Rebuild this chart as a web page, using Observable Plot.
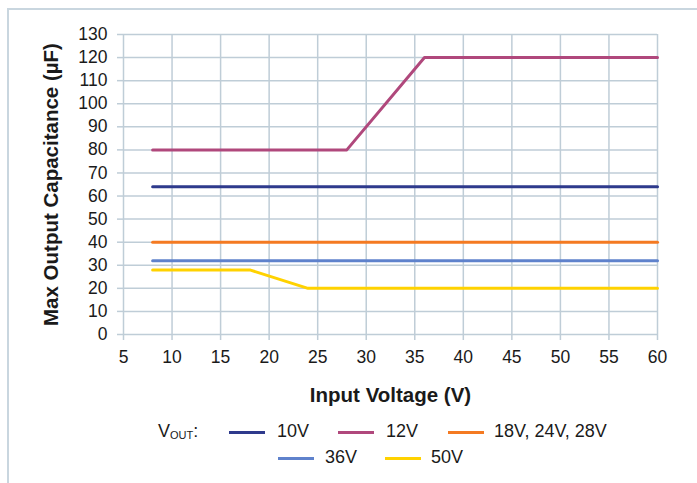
<!DOCTYPE html>
<html>
<head>
<meta charset="utf-8">
<script src="https://cdn.jsdelivr.net/npm/d3@7"></script>
<script src="https://cdn.jsdelivr.net/npm/@observablehq/plot@0.6"></script>
<style>
  html, body { margin: 0; padding: 0; background: #fff; }
  #wrap { position: relative; width: 697px; height: 483px; overflow: hidden; font-family: "Liberation Sans", Arial, sans-serif; color: #1a1a1a; }
  #frame { position: absolute; left: 7px; top: 8px; right: -10px; bottom: -10px; border-top: 2px solid #C9D6DF; border-left: 2px solid #C9D6DF; }
  #chart { position: absolute; left: 0; top: 0; }
  #chart svg { font-family: "Liberation Sans", Arial, sans-serif; }
  #chart g[aria-label="x-axis label"] text, #chart g[aria-label="y-axis label"] text { font-weight: bold; font-size: 20.5px; fill: #1a1a1a; }
  #legend { position: absolute; left: 0; top: 419px; width: 697px; height: 60px; font-size: 18px; }
  .lg { position: absolute; white-space: nowrap; }
  .sw { position: absolute; height: 3px; }
</style>
</head>
<body>
<div id="wrap">
  <div id="frame"></div>
  <div id="chart"></div>
  <div id="legend"></div>
</div>
<script>
// ---- data ----
const xTicks = [5, 10, 15, 20, 25, 30, 35, 40, 45, 50, 55, 60];
const yTicks = [0, 10, 20, 30, 40, 50, 60, 70, 80, 90, 100, 110, 120, 130];

const seriesNames = ["10V", "12V", "18V, 24V, 28V", "36V", "50V"];
const seriesColors = ["#2E3A8C", "#B0487C", "#F47A22", "#5F82CC", "#FFD200"];

const vin10 = [8, 60];
const cap10 = [64, 64];
const vin12 = [8, 28, 36, 60];
const cap12 = [80, 80, 120, 120];
const vin18 = [8, 60];
const cap18 = [40, 40];
const vin36 = [8, 60];
const cap36 = [32, 32];
const vin50 = [8, 18, 24, 60];
const cap50 = [28, 28, 20, 20];

const seriesX = [vin10, vin12, vin18, vin36, vin50];
const seriesY = [cap10, cap12, cap18, cap36, cap50];

const rows = [];
seriesNames.forEach((name, i) => {
  seriesX[i].forEach((x, j) => rows.push({series: name, vin: x, cap: seriesY[i][j]}));
});

const gridColor = "#BFCDD7";
const order = ["18V, 24V, 28V", "36V", "50V", "10V", "12V"];

const plot = Plot.plot({
  width: 697,
  height: 419,
  marginTop: 34,
  marginLeft: 123,
  marginRight: 40,
  marginBottom: 85,
  style: {background: "transparent", color: "#1a1a1a"},
  x: {domain: [5, 60]},
  y: {domain: [0, 130]},
  marks: [
    Plot.gridX(xTicks, {stroke: gridColor, strokeOpacity: 1, strokeWidth: 1.5}),
    Plot.gridY(yTicks, {stroke: gridColor, strokeOpacity: 1, strokeWidth: 1.5}),
    Plot.axisX(xTicks, {
      tickSize: 6, tickPadding: 10, stroke: gridColor, strokeOpacity: 1, strokeWidth: 1.5,
      fontSize: 17.5, label: "Input Voltage (V)", labelAnchor: "center", labelArrow: "none", labelOffset: 67
    }),
    Plot.axisY(yTicks, {
      tickSize: 6, tickPadding: 10, stroke: gridColor, strokeOpacity: 1, strokeWidth: 1.5,
      fontSize: 17.5, label: "Max Output Capacitance (µF)", labelAnchor: "center", labelArrow: "none", labelOffset: 80
    }),
    ...order.map(name => Plot.line(rows.filter(d => d.series === name), {
      x: "vin", y: "cap",
      stroke: seriesColors[seriesNames.indexOf(name)],
      strokeWidth: 3
    }))
  ]
});
document.getElementById("chart").appendChild(plot);

// ---- legend ----
const legend = document.getElementById("legend");
const legendItems = [
  {i: 0, lineX: 229, textX: 277, row: 0},
  {i: 1, lineX: 338, textX: 386, row: 0},
  {i: 2, lineX: 448, textX: 494, row: 0},
  {i: 3, lineX: 278, textX: 325, row: 1},
  {i: 4, lineX: 385, textX: 431, row: 1}
];
const rowCenters = [13, 39];
const title = document.createElement("div");
title.className = "lg";
title.style.left = "158px";
title.style.top = (rowCenters[0] - 11) + "px";
title.innerHTML = 'V<sub style="font-size:11px;vertical-align:-2px">OUT</sub>:';
legend.appendChild(title);
legendItems.forEach(it => {
  const sw = document.createElement("div");
  sw.className = "sw";
  sw.style.left = it.lineX + "px";
  sw.style.width = "36px";
  sw.style.top = (rowCenters[it.row] - 1.5) + "px";
  sw.style.background = seriesColors[it.i];
  legend.appendChild(sw);
  const t = document.createElement("div");
  t.className = "lg";
  t.style.left = it.textX + "px";
  t.style.top = (rowCenters[it.row] - 11) + "px";
  t.textContent = seriesNames[it.i];
  legend.appendChild(t);
});
</script>
</body>
</html>
